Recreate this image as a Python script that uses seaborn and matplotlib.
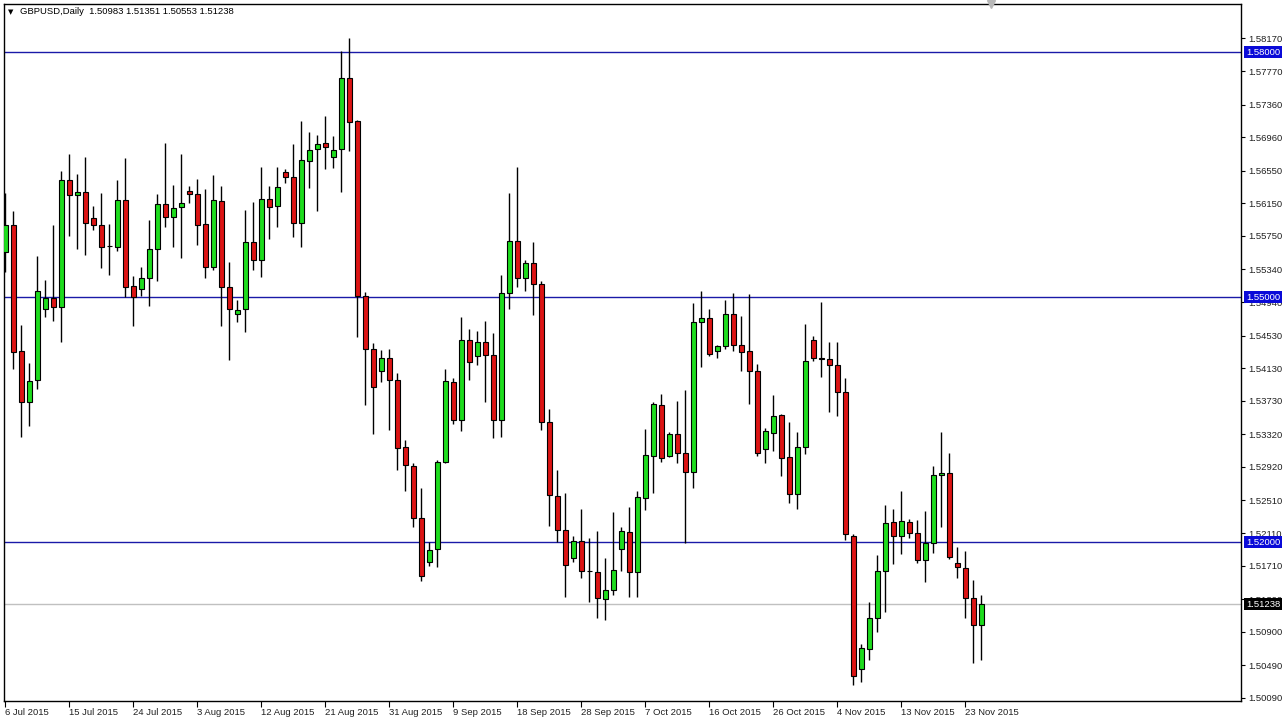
import numpy as np
import pandas as pd
import matplotlib
matplotlib.use("Agg")
import matplotlib.pyplot as plt
import seaborn as sns

# ---------------- data (GBPUSD daily) ----------------
symbol = "GBPUSD,Daily"
opens = [1.5555, 1.5588, 1.5434, 1.5372, 1.5398, 1.5486, 1.5499, 1.5488, 1.5644, 1.5625,
         1.5629, 1.5597, 1.5589, 1.5563, 1.5562, 1.5619, 1.5514, 1.5510, 1.5524, 1.5559,
         1.5614, 1.5598, 1.5610, 1.5630, 1.5626, 1.5590, 1.5537, 1.5618, 1.5512, 1.5479,
         1.5485, 1.5567, 1.5546, 1.5620, 1.5612, 1.5653, 1.5647, 1.5591, 1.5667, 1.5681,
         1.5689, 1.5672, 1.5681, 1.5768, 1.5716, 1.5502, 1.5436, 1.5410, 1.5425, 1.5399,
         1.5316, 1.5293, 1.5229, 1.5175, 1.5191, 1.5298, 1.5396, 1.5350, 1.5447, 1.5428,
         1.5445, 1.5429, 1.5350, 1.5505, 1.5569, 1.5524, 1.5542, 1.5516, 1.5347, 1.5256,
         1.5215, 1.5181, 1.5201, 1.5164, 1.5163, 1.5130, 1.5141, 1.5191, 1.5212, 1.5163,
         1.5254, 1.5305, 1.5368, 1.5306, 1.5332, 1.5309, 1.5286, 1.5469, 1.5474, 1.5434,
         1.5440, 1.5479, 1.5442, 1.5434, 1.5410, 1.5314, 1.5334, 1.5356, 1.5304, 1.5259,
         1.5316, 1.5447, 1.5426, 1.5424, 1.5417, 1.5384, 1.5208, 1.5045, 1.5069, 1.5107,
         1.5165, 1.5224, 1.5208, 1.5225, 1.5211, 1.5178, 1.5199, 1.5282, 1.5285, 1.5174,
         1.5168, 1.5132, 1.50983]
highs = [1.5628, 1.5605, 1.5466, 1.5419, 1.5550, 1.5521, 1.5588, 1.5654, 1.5676, 1.5651,
         1.5672, 1.5612, 1.5628, 1.5590, 1.5643, 1.5670, 1.5526, 1.5537, 1.5595, 1.5627,
         1.5689, 1.5637, 1.5676, 1.5636, 1.5645, 1.5633, 1.5650, 1.5636, 1.5543, 1.5497,
         1.5607, 1.5616, 1.5660, 1.5636, 1.5660, 1.5657, 1.5688, 1.5716, 1.5702, 1.5699,
         1.5722, 1.5697, 1.5802, 1.5818, 1.5717, 1.5506, 1.5444, 1.5435, 1.5436, 1.5407,
         1.5325, 1.5297, 1.5266, 1.5200, 1.5301, 1.5412, 1.5401, 1.5476, 1.5461, 1.5458,
         1.5471, 1.5456, 1.5527, 1.5628, 1.5659, 1.5545, 1.5568, 1.5520, 1.5363, 1.5288,
         1.5260, 1.5207, 1.5241, 1.5205, 1.5213, 1.5180, 1.5237, 1.5219, 1.5243, 1.5262,
         1.5339, 1.5371, 1.5382, 1.5335, 1.5373, 1.5386, 1.5493, 1.5507, 1.5485, 1.5441,
         1.5497, 1.5505, 1.5477, 1.5504, 1.5418, 1.5340, 1.5380, 1.5357, 1.5347, 1.5335,
         1.5467, 1.5452, 1.5494, 1.5445, 1.5445, 1.5401, 1.5210, 1.5075, 1.5127, 1.5184,
         1.5245, 1.5240, 1.5263, 1.5228, 1.5227, 1.5238, 1.5293, 1.5335, 1.5309, 1.5194,
         1.5189, 1.5154, 1.51351]
lows = [1.5531, 1.5412, 1.5329, 1.5342, 1.5388, 1.5476, 1.5471, 1.5445, 1.5575, 1.5559,
        1.5552, 1.5582, 1.5536, 1.5527, 1.5556, 1.5500, 1.5465, 1.5501, 1.5489, 1.5520,
        1.5586, 1.5561, 1.5548, 1.5615, 1.5564, 1.5524, 1.5533, 1.5465, 1.5423, 1.5470,
        1.5457, 1.5533, 1.5525, 1.5571, 1.5586, 1.5640, 1.5574, 1.5561, 1.5634, 1.5605,
        1.5657, 1.5658, 1.5629, 1.5679, 1.5451, 1.5368, 1.5333, 1.5396, 1.5337, 1.5288,
        1.5262, 1.5218, 1.5152, 1.5171, 1.5170, 1.5297, 1.5345, 1.5336, 1.5399, 1.5417,
        1.5371, 1.5328, 1.5329, 1.5485, 1.5513, 1.5508, 1.5478, 1.5337, 1.5220, 1.5200,
        1.5133, 1.5175, 1.5156, 1.5127, 1.5107, 1.5105, 1.5135, 1.5164, 1.5133, 1.5133,
        1.5239, 1.5260, 1.5298, 1.5304, 1.5297, 1.5199, 1.5266, 1.5414, 1.5428, 1.5425,
        1.5437, 1.5434, 1.5409, 1.5369, 1.5305, 1.5297, 1.5312, 1.5281, 1.5248, 1.5241,
        1.5308, 1.5422, 1.5402, 1.5359, 1.5355, 1.5203, 1.5025, 1.5029, 1.5056, 1.5090,
        1.5114, 1.5173, 1.5185, 1.5205, 1.5174, 1.5151, 1.5186, 1.5219, 1.5179, 1.5156,
        1.5107, 1.5052, 1.50553]
closes = [1.5588, 1.5433, 1.5372, 1.5397, 1.5507, 1.5499, 1.5488, 1.5644, 1.5625, 1.5629,
          1.5591, 1.5589, 1.5562, 1.5563, 1.5619, 1.5512, 1.5500, 1.5524, 1.5559, 1.5614,
          1.5598, 1.5609, 1.5615, 1.5626, 1.5588, 1.5537, 1.5619, 1.5512, 1.5485, 1.5484,
          1.5567, 1.5546, 1.5620, 1.5611, 1.5635, 1.5647, 1.5591, 1.5668, 1.5680, 1.5688,
          1.5684, 1.5680, 1.5768, 1.5715, 1.5501, 1.5436, 1.5390, 1.5425, 1.5399, 1.5315,
          1.5294, 1.5230, 1.5159, 1.5190, 1.5298, 1.5397, 1.5350, 1.5447, 1.5421, 1.5445,
          1.5429, 1.5349, 1.5505, 1.5569, 1.5523, 1.5542, 1.5516, 1.5347, 1.5258, 1.5215,
          1.5172, 1.5201, 1.5165, 1.5164, 1.5131, 1.5141, 1.5166, 1.5214, 1.5163, 1.5255,
          1.5307, 1.5369, 1.5303, 1.5332, 1.5309, 1.5286, 1.5469, 1.5475, 1.5431, 1.5440,
          1.5479, 1.5442, 1.5433, 1.5410, 1.5309, 1.5336, 1.5355, 1.5303, 1.5259, 1.5316,
          1.5422, 1.5426, 1.5424, 1.5417, 1.5384, 1.5210, 1.5036, 1.5070, 1.5107, 1.5165,
          1.5223, 1.5208, 1.5226, 1.5211, 1.5178, 1.5199, 1.5282, 1.5285, 1.5182, 1.5169,
          1.5132, 1.5098, 1.51238]
level_lines = [1.58000, 1.55000, 1.52000]
ytick_values = [1.58170, 1.57770, 1.57360, 1.56960, 1.56550, 1.56150, 1.55750, 1.55340,
                1.54940, 1.54530, 1.54130, 1.53730, 1.53320, 1.52920, 1.52510, 1.52110,
                1.51710, 1.51300, 1.50900, 1.50490, 1.50090]

# trading calendar of the broker (Mon-Fri plus Sunday bars)
days = pd.date_range("2015-07-06", "2015-11-25", freq="D")
dates = days[days.dayofweek != 5]

df = pd.DataFrame({"date": dates, "open": opens, "high": highs,
                   "low": lows, "close": closes})
df["idx"] = np.arange(len(df))
df["bull"] = df["close"] >= df["open"]

# ---------------- style ----------------
sns.set_style("white")
plt.rcParams["font.family"] = ["Liberation Sans", "DejaVu Sans"]
BULL = "#1edc1e"
BEAR = "#dc1414"
LEVEL = "#1a1aa8"
BOX = "#0a0ad8"
FS = 6.8

W, H = 1286, 721
fig = plt.figure(figsize=(W / 100, H / 100), dpi=100)
fig.patch.set_facecolor("white")
ax = fig.add_axes([4 / W, 1 - 701 / H, (1241 - 4) / W, (701 - 4) / H])
ax.set_facecolor("white")

# level lines and last-price line
for lv in level_lines:
    ax.axhline(lv, color=LEVEL, lw=1.0, zorder=1)
last_close = df["close"].iloc[-1]
ax.axhline(last_close, color="#c0c0c0", lw=1.0, zorder=1)

# wicks
ax.vlines(df["idx"], df["low"], df["high"], color="black", lw=1.0, zorder=2)
# bodies
body_h = (df["close"] - df["open"]).abs().clip(lower=0.00003)
body_b = np.minimum(df["open"], df["close"])
ax.bar(df["idx"], body_h, bottom=body_b, width=0.62,
       color=np.where(df["bull"], BULL, BEAR), edgecolor="black", lw=0.8, zorder=3)

ax.set_xlim(-0.1625, 154.46)
ax.set_ylim(1.50053, 1.585917)

# right price axis
ax.yaxis.tick_right()
ax.set_yticks(ytick_values)
ax.set_yticklabels([f"{v:.5f}" for v in ytick_values], fontsize=FS, color="#202020")
ax.tick_params(axis="y", length=3, width=0.8, pad=2, direction="out", right=True, color="black")

# date axis
tick_idx = df["idx"].iloc[::8].tolist()
tick_lab = [f"{d.day} {d.strftime('%b %Y')}" for d in df["date"].iloc[::8]]
ax.set_xticks(tick_idx)
ax.set_xticklabels(tick_lab, fontsize=FS, color="#202020")
for t in ax.get_xticklabels():
    t.set_ha("left")
ax.tick_params(axis="x", length=4, width=0.8, pad=1, direction="out", bottom=True, color="black")

for s in ax.spines.values():
    s.set_color("black")
    s.set_linewidth(1.0)
    s.set_visible(True)

# price boxes on right axis
for lv in level_lines:
    ax.annotate(f"{lv:.5f}", xy=(1.0, lv), xycoords=("axes fraction", "data"),
                xytext=(3.5, 0), textcoords="offset points", ha="left", va="center",
                fontsize=FS, color="white", zorder=10, annotation_clip=False,
                bbox=dict(boxstyle="square,pad=0.18", fc=BOX, ec="none"))
ax.annotate(f"{last_close:.5f}", xy=(1.0, last_close), xycoords=("axes fraction", "data"),
            xytext=(3.5, 0), textcoords="offset points", ha="left", va="center",
            fontsize=FS, color="white", zorder=10, annotation_clip=False,
            bbox=dict(boxstyle="square,pad=0.18", fc="black", ec="none"))

# header text
last = df.iloc[-1]
header = f"{symbol}  {last['open']:.5f} {last['high']:.5f} {last['low']:.5f} {last['close']:.5f}"
fig.text(8 / W, 1 - 12 / H, "\u25BC", fontsize=5, va="center", ha="left",
         family=["DejaVu Sans"], color="black")
fig.text(20 / W, 1 - 12 / H, header, fontsize=FS, va="center", ha="left", color="black")

# chart shift marker
ax.plot([0.798], [1.0], marker="v", color="#b8b8b8", ms=6, transform=ax.transAxes,
        clip_on=False, zorder=10)

fig.savefig("out.png", dpi=100, facecolor="white")
